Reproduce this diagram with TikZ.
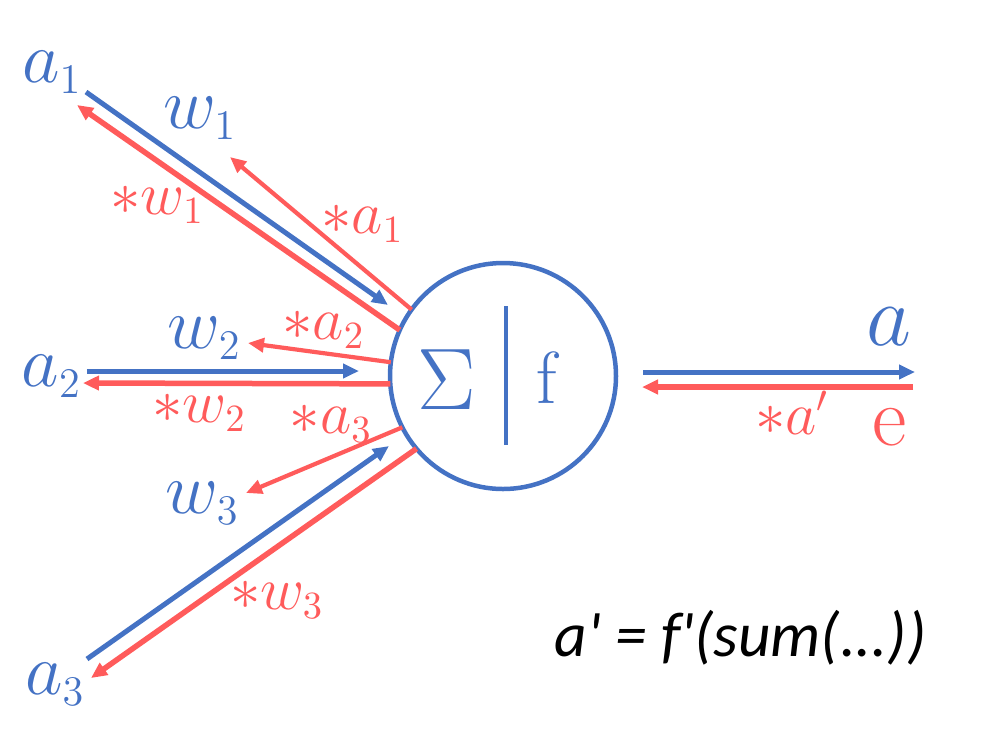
\documentclass[tikz,border=0pt]{standalone}
\usepackage{tikz}
\usetikzlibrary{arrows.meta}
\usetikzlibrary{positioning}
\usepackage{fontspec}
\newfontfamily\formulafont{Carlito}
\definecolor{nblue}{HTML}{4472C4}
\definecolor{nred}{HTML}{FF5B5B}
\DeclareMathSizes{21}{21}{12}{9}
\DeclareMathSizes{18}{18}{11}{8}

\begin{document}
\begin{tikzpicture}[->,>={Triangle[length=1.6mm,width=1.4mm]},
                    in label/.style={text=nblue,inner sep=0pt,font=\fontsize{21}{25}\selectfont},
                    back label/.style={text=nred,inner sep=0pt,font=\fontsize{18}{22}\selectfont},
                    fwd/.style={draw=nblue,line width=0.5mm},
                    bwd/.style={draw=nred,line width=0.55mm},
                    grad/.style={draw=nred,line width=0.42mm},
                    neuron/.style={circle,draw=nblue,line width=0.45mm,minimum size=2.26cm,inner sep=0pt,outer sep=0pt}]

\useasboundingbox (-5.03cm,-3.74cm) rectangle (4.97cm,3.76cm);

% the neuron
\node[neuron] (N) at (0cm, 0cm) {};
\node (S) at (-0.56cm, -0.04cm) [text=nblue, inner sep=0pt, font=\fontsize{24}{28}\selectfont] {$\Sigma$};
\node (F) at (0.44cm, -0.02cm) [text=nblue, inner sep=0pt, font=\fontsize{21}{25}\selectfont] {f};
\draw[-, nblue, line width=0.45mm] (0.03cm, 0.70cm) -- (0.03cm, -0.69cm);

% inputs and weights
\node (A1) at (-4.51cm, 3.04cm) [in label] {$a_1$};
\node (A2) at (-4.515cm, 0.0cm) [in label] {$a_2$};
\node (A3) at (-4.48cm, -3.08cm) [in label] {$a_3$};
\node (W1) at (-3.03cm, 2.58cm) [in label] {$w_1$};
\node (W2) at (-2.985cm, 0.38cm) [in label] {$w_2$};
\node (W3) at (-3.005cm, -1.275cm) [in label] {$w_3$};

% backward labels
\node (BW1) at (-3.455cm, 1.71cm) [back label] {${*}w_1$};
\node (BW2) at (-3.035cm, -0.365cm) [back label] {${*}w_2$};
\node (BW3) at (-2.26cm, -2.24cm) [back label] {${*}w_3$};
\node (BA1) at (-1.405cm, 1.52cm) [back label] {${*}a_1$};
\node (BA2) at (-1.795cm, 0.465cm) [back label] {${*}a_2$};
\node (BA3) at (-1.72cm, -0.475cm) [back label] {${*}a_3$};

% output side
\node (OA) at (3.86cm, 0.495cm) [text=nblue, inner sep=0pt, font=\fontsize{23}{27}\selectfont] {$a$};
\node (OE) at (3.87cm, -0.515cm) [text=nred, inner sep=0pt, font=\fontsize{24}{28}\selectfont] {e};
\node (OD) at (2.89cm, -0.365cm) [back label] {${*}a'$};
\node (EQ) at (2.375cm, -2.615cm) [inner sep=0pt, font=\formulafont\itshape\fontsize{18}{22}\selectfont] {a' = f'(sum(...))};

\coordinate (A1s) at (-4.17cm, 2.84cm);
\coordinate (W1t) at (-1.15cm, 0.71cm);
\coordinate (A1t) at (-4.26cm, 2.71cm);
\coordinate (G1t) at (-2.73cm, 2.19cm);
\coordinate (A2s) at (-4.16cm, 0.05cm);
\coordinate (W2t) at (-1.44cm, 0.05cm);
\coordinate (A2t) at (-4.20cm, -0.07cm);
\coordinate (G2t) at (-2.55cm, 0.33cm);
\coordinate (A3s) at (-4.16cm, -2.83cm);
\coordinate (W3t) at (-1.14cm, -0.70cm);
\coordinate (A3t) at (-4.12cm, -3.02cm);
\coordinate (G3t) at (-2.57cm, -1.17cm);
\coordinate (Os) at (1.40cm, 0.04cm);
\coordinate (Ot) at (4.12cm, 0.04cm);
\coordinate (Es) at (4.10cm, -0.11cm);
\coordinate (Et) at (1.39cm, -0.11cm);

\path
    (A1s) edge [fwd] (W1t)
    (A2s) edge [fwd] (W2t)
    (A3s) edge [fwd] (W3t)
    (N.156) edge [bwd] (A1t)
    (N.184) edge [bwd] (A2t)
    (N.220) edge [bwd] (A3t)
    (N.144) edge [grad] (G1t)
    (N.173) edge [grad] (G2t)
    (N.207) edge [grad] (G3t)
    (Os) edge [fwd] (Ot)
    (Es) edge [bwd] (Et)
    ;
\end{tikzpicture}
\end{document}
